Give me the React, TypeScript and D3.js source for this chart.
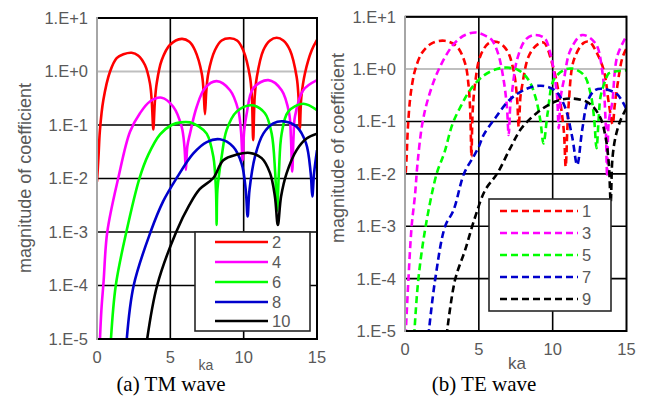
import * as d3 from "d3";

type Pt = [number, number];

// ka vs |coefficient|
const tmOrders = ["2", "4", "6", "8", "10"];
const teOrders = ["1", "3", "5", "7", "9"];
const colors = ["#ff0000", "#ff00ff", "#00ff00", "#0000cc", "#000000"];
const yTicks = [1e-5, 1e-4, 1e-3, 1e-2, 1e-1, 1, 10];
const yTickLabels = ["1.E-5", "1.E-4", "1.E-3", "1.E-2", "1.E-1", "1.E+0", "1.E+1"];
const xTicks = [0, 5, 10, 15];

const tm2: Pt[] = [
  [0, 0.0087], [0.1, 0.025], [0.2, 0.08], [0.43, 0.29], [0.89, 1.0], [1.34, 1.78], [1.8, 2.1], [2.36, 2.24],
  [2.8, 2.0], [3.27, 1.32], [3.61, 0.6], [3.74, 0.26], [3.84, 0.083], [3.94, 0.26], [4.07, 0.6], [4.41, 1.62],
  [4.98, 3.16], [5.77, 4.07], [6.3, 3.6], [6.68, 2.5], [7.14, 0.93], [7.27, 0.42], [7.36, 0.16], [7.45, 0.42],
  [7.59, 0.93], [8.04, 2.5], [8.5, 3.8], [9.07, 4.17], [9.55, 3.8], [9.97, 2.5], [10.43, 0.8], [10.56, 0.33],
  [10.65, 0.052], [10.75, 0.33], [10.9, 0.8], [11.34, 2.5], [11.8, 3.8], [12.25, 4.27], [12.7, 3.8], [13.16, 2.5],
  [13.61, 0.8], [13.74, 0.33], [13.83, 0.087], [13.93, 0.33], [14.18, 0.93], [14.64, 2.5], [15, 3.9],
];
const tm4: Pt[] = [
  [0.18, 7e-6], [0.3, 3.5e-5], [0.45, 1.2e-4], [0.7, 1e-3], [1.45, 0.0102], [2.25, 0.075], [2.93, 0.166],
  [3.61, 0.275], [4.41, 0.324], [5.2, 0.219], [5.77, 0.093], [5.96, 0.04], [6.06, 0.0145], [6.16, 0.04],
  [6.34, 0.069], [6.8, 0.219], [7.36, 0.49], [8.16, 0.66], [9.07, 0.447], [9.63, 0.19], [9.82, 0.075],
  [9.93, 0.022], [10.03, 0.075], [10.2, 0.16], [10.66, 0.49], [11.68, 0.69], [12.59, 0.447], [13.1, 0.166],
  [13.22, 0.06], [13.31, 0.0135], [13.4, 0.06], [13.5, 0.145], [14.06, 0.447], [15, 0.69],
];
const tm6: Pt[] = [
  [0.93, 8e-6], [1.28, 1e-4], [2.0, 1e-3], [2.9, 0.0102], [3.5, 0.028], [4.3, 0.067], [5.09, 0.1], [5.7, 0.112],
  [6.34, 0.112], [6.9, 0.095], [7.48, 0.069], [7.93, 0.0257], [8.11, 0.0062], [8.16, 0.00135], [8.21, 0.0062],
  [8.5, 0.0257], [8.84, 0.081], [9.52, 0.178], [10.55, 0.234], [11.45, 0.166], [11.91, 0.069], [12.15, 0.0126],
  [12.28, 0.0025], [12.4, 0.0126], [12.59, 0.069], [13.04, 0.178], [14.06, 0.25], [15, 0.19],
];
const tm8: Pt[] = [
  [2.0, 8e-6], [2.5, 1e-4], [3.65, 1e-3], [4.5, 0.0037], [5.43, 0.0102], [6.57, 0.0295], [7.48, 0.048],
  [8.38, 0.054], [9.29, 0.039], [9.86, 0.019], [10.14, 0.0062], [10.27, 0.00195], [10.4, 0.0062], [10.77, 0.0257],
  [11.34, 0.069], [12.02, 0.107], [12.7, 0.117], [13.61, 0.093], [14.25, 0.0457], [14.57, 0.0126], [14.68, 0.0046],
  [14.8, 0.0126], [15, 0.034],
];
const tm10: Pt[] = [
  [3.37, 8e-6], [4.1, 1e-4], [5.4, 1e-3], [6.3, 0.0032], [7.0, 0.0063], [7.93, 0.0102], [8.61, 0.022],
  [9.52, 0.028], [10.43, 0.03], [11.23, 0.024], [11.8, 0.0126], [12.13, 0.0046], [12.33, 0.00135], [12.55, 0.0046],
  [12.93, 0.0126], [13.61, 0.034], [14.29, 0.056], [15, 0.069],
];

const te1: Pt[] = [
  [0.05, 0.0105], [0.11, 0.021], [0.2, 0.08], [0.34, 0.26], [0.5, 0.55], [0.68, 0.95], [1.13, 2.0], [1.81, 3.1],
  [2.67, 3.47], [3.51, 2.7], [4.07, 1.29], [4.3, 0.5], [4.42, 0.15], [4.5, 0.0214], [4.58, 0.15], [4.75, 0.54],
  [5.09, 1.74], [5.65, 3.1], [6.25, 3.3], [6.9, 2.29], [7.35, 0.95], [7.58, 0.3], [7.7, 0.079], [7.82, 0.3],
  [7.92, 0.46], [8.37, 1.74], [8.94, 2.9], [9.4, 3.2], [9.96, 1.29], [10.41, 0.35], [10.75, 0.069], [10.88, 0.0138],
  [11.0, 0.08], [11.09, 0.224], [11.43, 1.48], [12.1, 3.16], [12.5, 3.3], [12.9, 2.29], [13.46, 0.95], [13.8, 0.224],
  [14.06, 0.089], [14.2, 0.2], [14.37, 0.457], [14.71, 1.6], [15, 2.5],
];
const te3: Pt[] = [
  [0.04, 8e-6], [0.23, 9.5e-5], [0.45, 1e-3], [0.68, 0.004], [0.85, 0.016], [1.18, 0.093], [1.6, 0.295],
  [2.26, 0.95], [3.17, 2.7], [3.73, 3.9], [4.07, 4.47], [4.8, 5.0], [5.55, 4.17], [5.88, 3.6], [6.3, 2.0],
  [6.68, 0.62], [6.9, 0.19], [7.02, 0.055], [7.13, 0.2], [7.24, 0.347], [7.58, 1.48], [8.15, 3.6], [8.71, 4.47],
  [9.45, 3.9], [9.84, 2.0], [10.07, 0.95], [10.3, 0.295], [10.41, 0.074], [10.55, 0.3], [10.75, 0.6], [11.2, 2.29],
  [12.0, 4.47], [12.9, 3.1], [13.35, 0.95], [13.58, 0.107], [13.69, 0.0089], [13.8, 0.1], [14.03, 0.224],
  [14.37, 1.74], [15, 4.3],
];
const te5: Pt[] = [
  [0.62, 8e-6], [0.9, 9.5e-5], [1.4, 1e-3], [2.15, 0.0102], [2.66, 0.025], [3.22, 0.09], [3.8, 0.2], [4.41, 0.4],
  [5.32, 0.75], [6.22, 1.0], [6.9, 1.07], [7.69, 0.95], [8.37, 0.62], [8.83, 0.295], [9.16, 0.107], [9.38, 0.038],
  [9.66, 0.145], [10.07, 0.62], [10.75, 0.95], [11.32, 1.02], [12.1, 0.78], [12.56, 0.347], [12.8, 0.12],
  [12.97, 0.031], [13.12, 0.12], [13.24, 0.295], [13.58, 0.62], [13.8, 0.83], [14.15, 0.89], [15, 0.95],
];
const te7: Pt[] = [
  [1.58, 8e-6], [2.04, 9.5e-5], [2.72, 1e-3], [3.28, 0.002], [4.0, 0.0102], [4.64, 0.0214], [5.0, 0.033],
  [5.32, 0.055], [6.15, 0.12], [7.07, 0.257], [8.2, 0.417], [9.2, 0.48], [10.12, 0.4], [10.8, 0.2], [11.32, 0.051],
  [11.66, 0.0148], [12.0, 0.069], [12.4, 0.257], [12.9, 0.4], [13.5, 0.417], [14.37, 0.33], [15, 0.17],
];
const te9: Pt[] = [
  [2.81, 8e-6], [3.39, 9.5e-5], [4.07, 3.5e-4], [4.75, 1.5e-3], [5.43, 4.9e-3], [6.25, 0.0102], [7.13, 0.031],
  [7.9, 0.075], [9.05, 0.155], [10.18, 0.24], [11.2, 0.275], [12.4, 0.23], [13.2, 0.123], [13.58, 0.051],
  [13.8, 0.0158], [13.93, 0.0029], [14.05, 0.02], [14.26, 0.051], [14.6, 0.107], [15, 0.18],
];

const tmSeries = [tm2, tm4, tm6, tm8, tm10];
const teSeries = [te1, te3, te5, te7, te9];

const FONT = "'Liberation Sans', Arial, sans-serif";
const GRAY = "#595959";

type PanelProps = {
  id: string;
  x0: number; x1: number; y0: number; y1: number;
  series: Pt[][];
  names: string[];
  dashed: boolean;
  legend: { x: number; y: number; w: number; h: number; lx0: number; lx1: number; rows: number[] };
  xTickY: number;
  ka: { x: number; y: number; size: number };
  title: { x: number; y: number };
  caption: { x: number; text: string };
};

function Panel(p: PanelProps) {
  const x = d3.scaleLinear().domain([0, 15]).range([p.x0, p.x1]);
  const y = d3.scaleLog().domain([1e-5, 10]).range([p.y1, p.y0]);
  const line = d3
    .line<Pt>()
    .x(d => x(d[0]))
    .y(d => y(d[1]))
    .curve(d3.curveCatmullRom.alpha(0.5));

  return (
    <g>
      <defs>
        <clipPath id={p.id}>
          <rect x={p.x0} y={p.y0} width={p.x1 - p.x0} height={p.y1 - p.y0} />
        </clipPath>
      </defs>
      <rect x={p.x0} y={p.y0} width={p.x1 - p.x0} height={p.y1 - p.y0} fill="#fff" />
      {yTicks.map((t, i) => (
        <line key={"h" + i} x1={p.x0} x2={p.x1} y1={y(t)} y2={y(t)}
          stroke={t === 1 ? "#bfbfbf" : "#000"} strokeWidth={t === 1 ? 2 : 1.6} />
      ))}
      {xTicks.slice(1, 3).map(t => (
        <line key={"v" + t} x1={x(t)} x2={x(t)} y1={p.y0} y2={p.y1} stroke="#000" strokeWidth={1.6} />
      ))}
      <g clipPath={`url(#${p.id})`} fill="none">
        {p.series.map((s, i) => (
          <path key={i} d={line(s) ?? ""} stroke={colors[i]} strokeWidth={2.6}
            strokeDasharray={p.dashed ? "7,4" : undefined} />
        ))}
      </g>
      <line x1={p.x0} x2={p.x1} y1={p.y0} y2={p.y0} stroke="#000" strokeWidth={2} />
      <line x1={p.x0} x2={p.x1} y1={p.y1} y2={p.y1} stroke="#000" strokeWidth={2} />
      <line x1={p.x1} x2={p.x1} y1={p.y0 - 1} y2={p.y1 + 1} stroke="#000" strokeWidth={2} />
      <line x1={p.x0} x2={p.x0} y1={p.y0 - 1} y2={p.y1 + 1} stroke="#a6a6a6" strokeWidth={2} />

      {yTicks.map((t, i) => (
        <text key={"yl" + i} x={p.x0 - 9} y={y(t)} dy="0.36em" textAnchor="end" fontSize={16.5}
          fontFamily={FONT} fill={GRAY}>{yTickLabels[i]}</text>
      ))}
      {xTicks.map(t => (
        <text key={"xl" + t} x={x(t)} y={p.xTickY} textAnchor="middle" fontSize={16.5} fontFamily={FONT}
          fill={GRAY}>{t}</text>
      ))}
      <text x={p.ka.x} y={p.ka.y} textAnchor="middle" fontSize={p.ka.size} fontFamily={FONT} fill={GRAY}>ka</text>
      <text transform={`translate(${p.title.x},${p.title.y}) rotate(-90)`} textAnchor="middle" dy="0.35em"
        fontSize={18} fontFamily={FONT} fill={GRAY}>magnitude of coefficient</text>
      <text x={p.caption.x} y={391} textAnchor="middle" fontSize={21}
        fontFamily="'Liberation Serif', 'Times New Roman', serif" fill="#000">{p.caption.text}</text>

      <rect x={p.legend.x} y={p.legend.y} width={p.legend.w} height={p.legend.h} fill="#fff"
        stroke="#262626" strokeWidth={1.6} />
      {p.names.map((n, i) => (
        <g key={n}>
          <line x1={p.legend.lx0} x2={p.legend.lx1} y1={p.legend.rows[i]} y2={p.legend.rows[i]}
            stroke={colors[i]} strokeWidth={2.6} strokeDasharray={p.dashed ? "7,4" : undefined} />
          <text x={p.legend.lx1 + 4} y={p.legend.rows[i]} dy="0.36em" fontSize={16.5} fontFamily={FONT}
            fill={GRAY}>{n}</text>
        </g>
      ))}
    </g>
  );
}

export default function App() {
  return (
    <svg width={645} height={396} style={{ position: "absolute", left: 0, top: 0, background: "#fff" }}>
      <rect width={645} height={396} fill="#fff" />
      <Panel
        id="clipTM" x0={97} x1={317} y0={18} y1={339}
        series={tmSeries} names={tmOrders} dashed={false}
        legend={{ x: 195, y: 232, w: 115, h: 99, lx0: 215, lx1: 268, rows: [242, 262, 282, 302, 321] }}
        xTickY={363}
        ka={{ x: 206, y: 370, size: 14 }}
        title={{ x: 25, y: 178 }}
        caption={{ x: 171, text: "(a) TM wave" }}
      />
      <Panel
        id="clipTE" x0={405} x1={626.5} y0={16.7} y1={331}
        series={teSeries} names={teOrders} dashed={true}
        legend={{ x: 489, y: 199, w: 122, h: 112, lx0: 500, lx1: 578, rows: [211, 233, 255, 277, 299] }}
        xTickY={355}
        ka={{ x: 517, y: 369, size: 17 }}
        title={{ x: 338, y: 148 }}
        caption={{ x: 484, text: "(b) TE wave" }}
      />
    </svg>
  );
}
